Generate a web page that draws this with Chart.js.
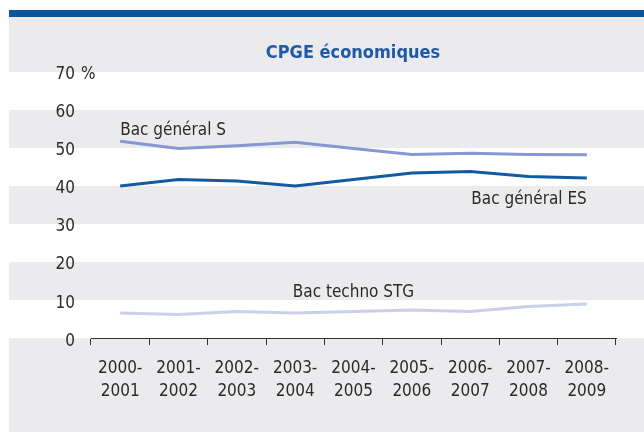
<!DOCTYPE html>
<html><head><meta charset="utf-8">
<script src="https://cdn.jsdelivr.net/npm/chart.js@4"></script>
<style>html,body{margin:0;padding:0;background:#fff}#c{display:block}</style>
</head><body>
<canvas id="c" width="644" height="432"></canvas>
<script>
const categories = [["2000-","2001"],["2001-","2002"],["2002-","2003"],["2003-","2004"],["2004-","2005"],["2005-","2006"],["2006-","2007"],["2007-","2008"],["2008-","2009"]];
const bacS = [51.8, 49.9, 50.6, 51.5, 49.9, 48.3, 48.6, 48.3, 48.2];
const bacES = [40.0, 41.7, 41.3, 40.0, 41.7, 43.4, 43.8, 42.5, 42.1];
const bacSTG = [6.6, 6.2, 7.0, 6.6, 7.0, 7.4, 7.0, 8.3, 9.0];
const yTicks = [0, 10, 20, 30, 40, 50, 60, 70];
const whiteBands = [[60, 70], [40, 50], [20, 30], [0, 10]];
const title = "CPGE économiques";
const seriesNames = ["Bac général S", "Bac général ES", "Bac techno STG"];

const FONT = "'Liberation Sans Narrow','DejaVu Sans Condensed','Roboto',sans-serif";

const bgPlugin = {
  id: 'bg',
  beforeDraw(chart) {
    const ctx = chart.ctx, y = chart.scales.y;
    ctx.save();
    ctx.fillStyle = '#ffffff';
    ctx.fillRect(0, 0, 644, 432);
    ctx.fillStyle = '#0b559e';
    ctx.fillRect(9, 10, 635, 7);
    ctx.fillStyle = '#ebebed';
    ctx.fillRect(9, 17, 635, 415);
    ctx.fillStyle = '#ffffff';
    whiteBands.forEach(([lo, hi]) => {
      const t = y.getPixelForValue(hi), b = y.getPixelForValue(lo);
      ctx.fillRect(9, t, 635, b - t);
    });
    ctx.fillStyle = '#1f5aa6';
    ctx.font = "bold 18px " + FONT;
    ctx.textAlign = 'center';
    ctx.textBaseline = 'middle';
    ctx.fillText(title, 353, 53);
    ctx.restore();
  },
  afterDraw(chart) {
    const ctx = chart.ctx, x = chart.scales.x, y = chart.scales.y;
    ctx.save();
    ctx.fillStyle = '#2b2b2b';
    ctx.font = "17px " + FONT;
    ctx.textBaseline = 'middle';
    ctx.textAlign = 'left';
    ctx.fillText('%', 81, y.getPixelForValue(70) + 3);
    ctx.fillText(seriesNames[0], x.getPixelForValue(0), y.getPixelForValue(54.6));
    ctx.textAlign = 'right';
    ctx.fillText(seriesNames[1], x.getPixelForValue(8), y.getPixelForValue(36.4));
    ctx.textAlign = 'center';
    ctx.fillText(seriesNames[2], x.getPixelForValue(4), y.getPixelForValue(11.9));
    ctx.restore();
  }
};

new Chart(document.getElementById('c'), {
  type: 'line',
  data: {
    labels: categories,
    datasets: [
      { label: seriesNames[2], data: bacSTG, borderColor: '#c9d1ea', borderWidth: 3, pointRadius: 0, tension: 0 },
      { label: seriesNames[0], data: bacS, borderColor: '#8499d1', borderWidth: 3, pointRadius: 0, tension: 0 },
      { label: seriesNames[1], data: bacES, borderColor: '#125aa2', borderWidth: 3, pointRadius: 0, tension: 0 }
    ]
  },
  options: {
    responsive: false,
    animation: false,
    devicePixelRatio: 1,
    layout: { padding: { top: 72, right: 28, bottom: 17, left: 0 } },
    plugins: { legend: { display: false }, tooltip: { enabled: false }, title: { display: false } },
    scales: {
      x: {
        offset: true,
        grid: { display: true, drawOnChartArea: false, drawTicks: true, tickLength: 7, color: '#333', offset: true },
        border: { display: true, color: '#333', width: 1 },
        ticks: { color: '#2b2b2b', font: { family: FONT, size: 17, lineHeight: 1.35 }, padding: 12, maxRotation: 0, autoSkip: false }
      },
      y: {
        min: 0, max: 70,
        afterBuildTicks(s) { s.ticks = yTicks.map(v => ({ value: v })); },
        afterFit(s) { s.width = 91; },
        grid: { display: false, drawTicks: false },
        border: { display: false },
        ticks: { color: '#2b2b2b', font: { family: FONT, size: 17 }, padding: 16, stepSize: 10, labelOffset: 3 }
      }
    }
  },
  plugins: [bgPlugin]
});
</script>
</body></html>
